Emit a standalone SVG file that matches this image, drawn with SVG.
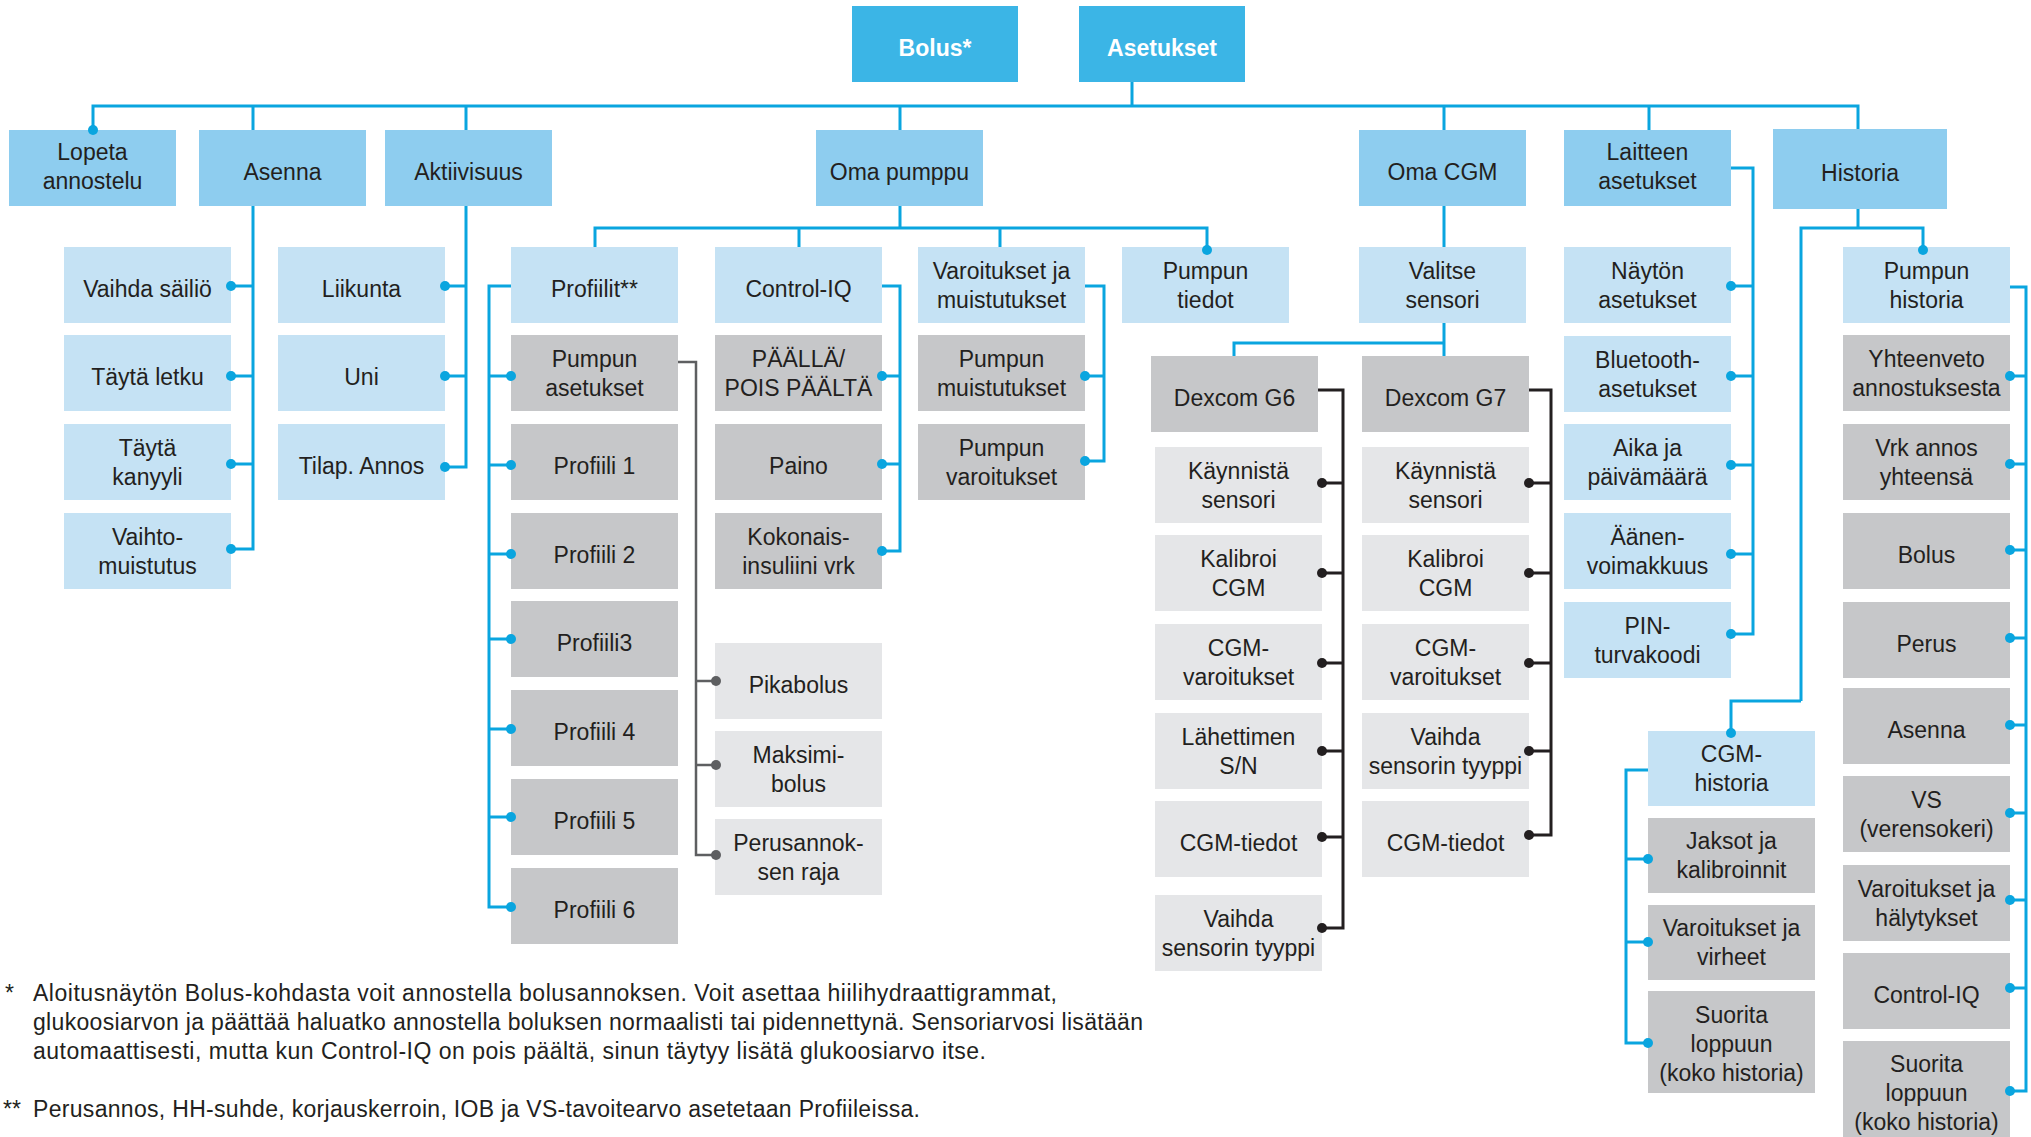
<svg xmlns="http://www.w3.org/2000/svg" width="2031" height="1137" viewBox="0 0 2031 1137">
<defs>
<style>
rect{stroke:none}
.top{fill:#3BB5E6}
.l1{fill:#8ECDEF}
.lb{fill:#C5E2F4}
.dg{fill:#C6C7C9}
.lg{fill:#E5E6E8}
text{font-family:"Liberation Sans",Arial,sans-serif;font-size:23px;fill:#231F20;text-anchor:middle}
text.w{fill:#FFFFFF;font-weight:bold}
text.fn{font-size:23px;text-anchor:start}
.cb{fill:none;stroke:#0AA5DF;stroke-width:3}
.ck{fill:none;stroke:#231F20;stroke-width:3}
.cg{fill:none;stroke:#5E5F61;stroke-width:2.5}
.db{fill:#0AA5DF}
.dk{fill:#231F20}
.dgr{fill:#5E5F61}
</style>
</defs>

<g id="n-bolus"><rect class="top" x="852" y="6" width="166" height="76"/><text class="w" x="935" y="56">Bolus*</text></g>
<g id="n-asetukset"><rect class="top" x="1079" y="6" width="166" height="76"/><text class="w" x="1162" y="56">Asetukset</text></g>

<g id="n-lopeta"><rect class="l1" x="9" y="130" width="167" height="76"/><text x="92.5" y="160">Lopeta</text><text x="92.5" y="189">annostelu</text></g>
<g id="n-asenna"><rect class="l1" x="199" y="130" width="167" height="76"/><text x="282.5" y="180">Asenna</text></g>
<g id="n-aktiivisuus"><rect class="l1" x="385" y="130" width="167" height="76"/><text x="468.5" y="180">Aktiivisuus</text></g>
<g id="n-omapumppu"><rect class="l1" x="816" y="130" width="167" height="76"/><text x="899.5" y="180">Oma pumppu</text></g>
<g id="n-omacgm"><rect class="l1" x="1359" y="130" width="167" height="76"/><text x="1442.5" y="180">Oma CGM</text></g>
<g id="n-laitteen"><rect class="l1" x="1564" y="130" width="167" height="76"/><text x="1647.5" y="160">Laitteen</text><text x="1647.5" y="189">asetukset</text></g>
<g id="n-historia"><rect class="l1" x="1773" y="129" width="174" height="80"/><text x="1860" y="181">Historia</text></g>

<g id="n-vaihdasailio"><rect class="lb" x="64" y="247" width="167" height="76"/><text x="147.5" y="297">Vaihda säiliö</text></g>
<g id="n-taytaletku"><rect class="lb" x="64" y="335" width="167" height="76"/><text x="147.5" y="385">Täytä letku</text></g>
<g id="n-taytakanyyli"><rect class="lb" x="64" y="424" width="167" height="76"/><text x="147.5" y="455.5">Täytä</text><text x="147.5" y="484.5">kanyyli</text></g>
<g id="n-vaihtomuistutus"><rect class="lb" x="64" y="513" width="167" height="76"/><text x="147.5" y="544.5">Vaihto-</text><text x="147.5" y="573.5">muistutus</text></g>

<g id="n-liikunta"><rect class="lb" x="278" y="247" width="167" height="76"/><text x="361.5" y="297">Liikunta</text></g>
<g id="n-uni"><rect class="lb" x="278" y="335" width="167" height="76"/><text x="361.5" y="385">Uni</text></g>
<g id="n-tilap"><rect class="lb" x="278" y="424" width="167" height="76"/><text x="361.5" y="474">Tilap. Annos</text></g>

<g id="n-profiilit"><rect class="lb" x="511" y="247" width="167" height="76"/><text x="594.5" y="297">Profiilit**</text></g>
<g id="n-controliq"><rect class="lb" x="715" y="247" width="167" height="76"/><text x="798.5" y="297">Control-IQ</text></g>
<g id="n-varoitukset"><rect class="lb" x="918" y="247" width="167" height="76"/><text x="1001.5" y="278.5">Varoitukset ja</text><text x="1001.5" y="307.5">muistutukset</text></g>
<g id="n-pumpuntiedot"><rect class="lb" x="1122" y="247" width="167" height="76"/><text x="1205.5" y="278.5">Pumpun</text><text x="1205.5" y="307.5">tiedot</text></g>

<g id="n-pumpunasetukset"><rect class="dg" x="511" y="335" width="167" height="76"/><text x="594.5" y="366.5">Pumpun</text><text x="594.5" y="395.5">asetukset</text></g>
<g id="n-profiili1"><rect class="dg" x="511" y="424" width="167" height="76"/><text x="594.5" y="474">Profiili 1</text></g>
<g id="n-profiili2"><rect class="dg" x="511" y="513" width="167" height="76"/><text x="594.5" y="563">Profiili 2</text></g>
<g id="n-profiili3"><rect class="dg" x="511" y="601" width="167" height="76"/><text x="594.5" y="651">Profiili3</text></g>
<g id="n-profiili4"><rect class="dg" x="511" y="690" width="167" height="76"/><text x="594.5" y="740">Profiili 4</text></g>
<g id="n-profiili5"><rect class="dg" x="511" y="779" width="167" height="76"/><text x="594.5" y="829">Profiili 5</text></g>
<g id="n-profiili6"><rect class="dg" x="511" y="868" width="167" height="76"/><text x="594.5" y="918">Profiili 6</text></g>

<g id="n-paalla"><rect class="dg" x="715" y="335" width="167" height="76"/><text x="798.5" y="366.5">PÄÄLLÄ/</text><text x="798.5" y="395.5">POIS PÄÄLTÄ</text></g>
<g id="n-paino"><rect class="dg" x="715" y="424" width="167" height="76"/><text x="798.5" y="474">Paino</text></g>
<g id="n-kokonais"><rect class="dg" x="715" y="513" width="167" height="76"/><text x="798.5" y="544.5">Kokonais-</text><text x="798.5" y="573.5">insuliini vrk</text></g>

<g id="n-pikabolus"><rect class="lg" x="715" y="643" width="167" height="76"/><text x="798.5" y="693">Pikabolus</text></g>
<g id="n-maksimibolus"><rect class="lg" x="715" y="731" width="167" height="76"/><text x="798.5" y="762.5">Maksimi-</text><text x="798.5" y="791.5">bolus</text></g>
<g id="n-perusannoksenraja"><rect class="lg" x="715" y="819" width="167" height="76"/><text x="798.5" y="850.5">Perusannok-</text><text x="798.5" y="879.5">sen raja</text></g>

<g id="n-pumpunmuistutukset"><rect class="dg" x="918" y="335" width="167" height="76"/><text x="1001.5" y="366.5">Pumpun</text><text x="1001.5" y="395.5">muistutukset</text></g>
<g id="n-pumpunvaroitukset"><rect class="dg" x="918" y="424" width="167" height="76"/><text x="1001.5" y="455.5">Pumpun</text><text x="1001.5" y="484.5">varoitukset</text></g>

<g id="n-valitsesensori"><rect class="lb" x="1359" y="247" width="167" height="76"/><text x="1442.5" y="278.5">Valitse</text><text x="1442.5" y="307.5">sensori</text></g>
<g id="n-dexcomg6"><rect class="dg" x="1151" y="356" width="167" height="76"/><text x="1234.5" y="406">Dexcom G6</text></g>
<g id="n-dexcomg7"><rect class="dg" x="1362" y="356" width="167" height="76"/><text x="1445.5" y="406">Dexcom G7</text></g>

<g id="n-g6-kaynnista"><rect class="lg" x="1155" y="447" width="167" height="76"/><text x="1238.5" y="478.5">Käynnistä</text><text x="1238.5" y="507.5">sensori</text></g>
<g id="n-g6-kalibroi"><rect class="lg" x="1155" y="535" width="167" height="76"/><text x="1238.5" y="566.5">Kalibroi</text><text x="1238.5" y="595.5">CGM</text></g>
<g id="n-g6-cgmvaroitukset"><rect class="lg" x="1155" y="624" width="167" height="76"/><text x="1238.5" y="655.5">CGM-</text><text x="1238.5" y="684.5">varoitukset</text></g>
<g id="n-g6-lahettimen"><rect class="lg" x="1155" y="713" width="167" height="76"/><text x="1238.5" y="744.5">Lähettimen</text><text x="1238.5" y="773.5">S/N</text></g>
<g id="n-g6-cgmtiedot"><rect class="lg" x="1155" y="801" width="167" height="76"/><text x="1238.5" y="851">CGM-tiedot</text></g>
<g id="n-g6-vaihda"><rect class="lg" x="1155" y="895" width="167" height="76"/><text x="1238.5" y="926.5">Vaihda</text><text x="1238.5" y="955.5">sensorin tyyppi</text></g>

<g id="n-g7-kaynnista"><rect class="lg" x="1362" y="447" width="167" height="76"/><text x="1445.5" y="478.5">Käynnistä</text><text x="1445.5" y="507.5">sensori</text></g>
<g id="n-g7-kalibroi"><rect class="lg" x="1362" y="535" width="167" height="76"/><text x="1445.5" y="566.5">Kalibroi</text><text x="1445.5" y="595.5">CGM</text></g>
<g id="n-g7-cgmvaroitukset"><rect class="lg" x="1362" y="624" width="167" height="76"/><text x="1445.5" y="655.5">CGM-</text><text x="1445.5" y="684.5">varoitukset</text></g>
<g id="n-g7-vaihda"><rect class="lg" x="1362" y="713" width="167" height="76"/><text x="1445.5" y="744.5">Vaihda</text><text x="1445.5" y="773.5">sensorin tyyppi</text></g>
<g id="n-g7-cgmtiedot"><rect class="lg" x="1362" y="801" width="167" height="76"/><text x="1445.5" y="851">CGM-tiedot</text></g>

<g id="n-naytonasetukset"><rect class="lb" x="1564" y="247" width="167" height="76"/><text x="1647.5" y="278.5">Näytön</text><text x="1647.5" y="307.5">asetukset</text></g>
<g id="n-bluetooth"><rect class="lb" x="1564" y="336" width="167" height="76"/><text x="1647.5" y="367.5">Bluetooth-</text><text x="1647.5" y="396.5">asetukset</text></g>
<g id="n-aika"><rect class="lb" x="1564" y="424" width="167" height="76"/><text x="1647.5" y="455.5">Aika ja</text><text x="1647.5" y="484.5">päivämäärä</text></g>
<g id="n-aanen"><rect class="lb" x="1564" y="513" width="167" height="76"/><text x="1647.5" y="544.5">Äänen-</text><text x="1647.5" y="573.5">voimakkuus</text></g>
<g id="n-pin"><rect class="lb" x="1564" y="602" width="167" height="76"/><text x="1647.5" y="633.5">PIN-</text><text x="1647.5" y="662.5">turvakoodi</text></g>

<g id="n-cgmhistoria"><rect class="lb" x="1648" y="731" width="167" height="75"/><text x="1731.5" y="762">CGM-</text><text x="1731.5" y="791">historia</text></g>
<g id="n-jaksot"><rect class="dg" x="1648" y="818" width="167" height="75"/><text x="1731.5" y="849">Jaksot ja</text><text x="1731.5" y="878">kalibroinnit</text></g>
<g id="n-varoituksetvirheet"><rect class="dg" x="1648" y="905" width="167" height="75"/><text x="1731.5" y="936">Varoitukset ja</text><text x="1731.5" y="965">virheet</text></g>
<g id="n-cgm-suorita"><rect class="dg" x="1648" y="991" width="167" height="102"/><text x="1731.5" y="1023">Suorita</text><text x="1731.5" y="1052">loppuun</text><text x="1731.5" y="1081">(koko historia)</text></g>

<g id="n-pumpunhistoria"><rect class="lb" x="1843" y="247" width="167" height="76"/><text x="1926.5" y="278.5">Pumpun</text><text x="1926.5" y="307.5">historia</text></g>
<g id="n-yhteenveto"><rect class="dg" x="1843" y="335" width="167" height="76"/><text x="1926.5" y="366.5">Yhteenveto</text><text x="1926.5" y="395.5">annostuksesta</text></g>
<g id="n-vrkannos"><rect class="dg" x="1843" y="424" width="167" height="76"/><text x="1926.5" y="455.5">Vrk annos</text><text x="1926.5" y="484.5">yhteensä</text></g>
<g id="n-h-bolus"><rect class="dg" x="1843" y="513" width="167" height="76"/><text x="1926.5" y="563">Bolus</text></g>
<g id="n-h-perus"><rect class="dg" x="1843" y="602" width="167" height="76"/><text x="1926.5" y="652">Perus</text></g>
<g id="n-h-asenna"><rect class="dg" x="1843" y="688" width="167" height="76"/><text x="1926.5" y="738">Asenna</text></g>
<g id="n-h-vs"><rect class="dg" x="1843" y="776" width="167" height="76"/><text x="1926.5" y="807.5">VS</text><text x="1926.5" y="836.5">(verensokeri)</text></g>
<g id="n-h-varoitukset"><rect class="dg" x="1843" y="865" width="167" height="76"/><text x="1926.5" y="896.5">Varoitukset ja</text><text x="1926.5" y="925.5">hälytykset</text></g>
<g id="n-h-controliq"><rect class="dg" x="1843" y="953" width="167" height="76"/><text x="1926.5" y="1003">Control-IQ</text></g>
<g id="n-h-suorita"><rect class="dg" x="1843" y="1041" width="167" height="102"/><text x="1926.5" y="1072">Suorita</text><text x="1926.5" y="1101">loppuun</text><text x="1926.5" y="1130">(koko historia)</text></g>

<g id="connectors">
<path class="cb" d="M93 130V106H1858V129M253 106V130M466 106V130M900 106V130M1444 106V130M1649 106V130M1132 82V106"/>
<path class="cb" d="M253 206V549H231M253 286H231M253 376H231M253 464H231"/>
<path class="cb" d="M466 206V467H445M466 286H445M466 376H445"/>
<path class="cb" d="M900 206V228M595 247V228H1207V249M799 228V247M1000 228V247"/>
<path class="cb" d="M511 286H489V907H511M489 376H511M489 465H511M489 554H511M489 639H511M489 729H511M489 817H511"/>
<path class="cb" d="M882 286H900V551H882M900 376H882M900 464H882"/>
<path class="cb" d="M1085 286H1104V461H1085M1104 376H1085"/>
<path class="cb" d="M1444 206V247M1444 323V356M1444 343H1234V356"/>
<path class="cb" d="M1731 168H1753V634H1731M1753 286H1731M1753 376H1731M1753 465H1731M1753 554H1731"/>
<path class="cb" d="M1858 209V228M1801 701V228H1923V249M1801 701H1731V733"/>
<path class="cb" d="M1648 770H1626V1043H1648M1626 859H1648M1626 942H1648"/>
<path class="cb" d="M2010 287H2026V1091H2010M2026 376H2010M2026 464H2010M2026 550H2010M2026 638H2010M2026 725H2010M2026 813H2010M2026 900H2010M2026 988H2010"/>
<path class="ck" d="M1318 390H1343V928H1322M1343 483H1322M1343 573H1322M1343 663H1322M1343 751H1322M1343 837H1322"/>
<path class="ck" d="M1529 390H1551V835H1529M1551 483H1529M1551 573H1529M1551 663H1529M1551 751H1529"/>
<path class="cg" d="M678 362H696V855H716M696 681H716M696 765H716"/>
<g class="db">
<circle cx="93" cy="130" r="5"/>
<circle cx="231" cy="286" r="5"/><circle cx="231" cy="376" r="5"/><circle cx="231" cy="464" r="5"/><circle cx="231" cy="549" r="5"/>
<circle cx="445" cy="286" r="5"/><circle cx="445" cy="376" r="5"/><circle cx="445" cy="467" r="5"/>
<circle cx="1207" cy="250" r="5"/>
<circle cx="511" cy="376" r="5"/><circle cx="511" cy="465" r="5"/><circle cx="511" cy="554" r="5"/><circle cx="511" cy="639" r="5"/><circle cx="511" cy="729" r="5"/><circle cx="511" cy="817" r="5"/><circle cx="511" cy="907" r="5"/>
<circle cx="882" cy="376" r="5"/><circle cx="882" cy="464" r="5"/><circle cx="882" cy="551" r="5"/>
<circle cx="1085" cy="376" r="5"/><circle cx="1085" cy="461" r="5"/>
<circle cx="1731" cy="286" r="5"/><circle cx="1731" cy="376" r="5"/><circle cx="1731" cy="465" r="5"/><circle cx="1731" cy="554" r="5"/><circle cx="1731" cy="634" r="5"/>
<circle cx="1923" cy="250" r="5"/><circle cx="1731" cy="733" r="5"/>
<circle cx="1648" cy="859" r="5"/><circle cx="1648" cy="942" r="5"/><circle cx="1648" cy="1043" r="5"/>
<circle cx="2010" cy="376" r="5"/><circle cx="2010" cy="464" r="5"/><circle cx="2010" cy="550" r="5"/><circle cx="2010" cy="638" r="5"/><circle cx="2010" cy="725" r="5"/><circle cx="2010" cy="813" r="5"/><circle cx="2010" cy="900" r="5"/><circle cx="2010" cy="988" r="5"/><circle cx="2010" cy="1091" r="5"/>
</g>
<g class="dk">
<circle cx="1322" cy="483" r="5"/><circle cx="1322" cy="573" r="5"/><circle cx="1322" cy="663" r="5"/><circle cx="1322" cy="751" r="5"/><circle cx="1322" cy="837" r="5"/><circle cx="1322" cy="928" r="5"/>
<circle cx="1529" cy="483" r="5"/><circle cx="1529" cy="573" r="5"/><circle cx="1529" cy="663" r="5"/><circle cx="1529" cy="751" r="5"/><circle cx="1529" cy="835" r="5"/>
</g>
<g class="dgr">
<circle cx="716" cy="681" r="5"/><circle cx="716" cy="765" r="5"/><circle cx="716" cy="855" r="5"/>
</g>
</g>

<g id="footnotes">
<text class="fn" x="5" y="1001">*</text>
<text class="fn" x="33" y="1001" textLength="1024" lengthAdjust="spacing">Aloitusnäytön Bolus-kohdasta voit annostella bolusannoksen. Voit asettaa hiilihydraattigrammat,</text>
<text class="fn" x="33" y="1030" textLength="1110" lengthAdjust="spacing">glukoosiarvon ja päättää haluatko annostella boluksen normaalisti tai pidennettynä. Sensoriarvosi lisätään</text>
<text class="fn" x="33" y="1059" textLength="953" lengthAdjust="spacing">automaattisesti, mutta kun Control-IQ on pois päältä, sinun täytyy lisätä glukoosiarvo itse.</text>
<text class="fn" x="3" y="1117">**</text>
<text class="fn" x="33" y="1117" textLength="887" lengthAdjust="spacing">Perusannos, HH-suhde, korjauskerroin, IOB ja VS-tavoitearvo asetetaan Profiileissa.</text>
</g>
</svg>
